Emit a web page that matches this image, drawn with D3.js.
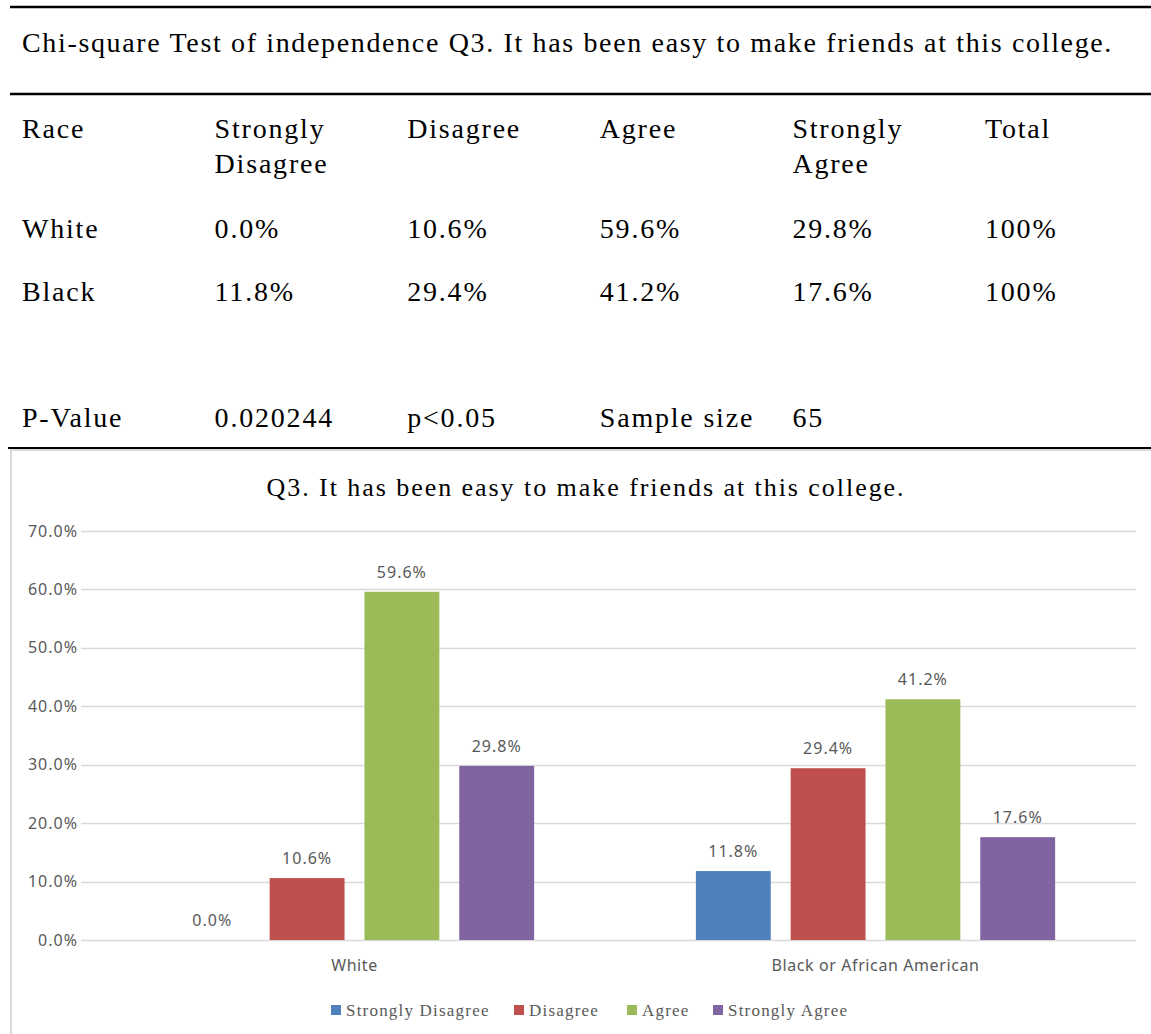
<!doctype html>
<html>
<head>
  <meta charset="UTF-8" />
  <title>Q3 chi-square</title>
  <style>
    html, body { margin: 0; padding: 0; background: #fff; }
    svg { display: block; }
    .serif { font-family: "Liberation Serif", "Times New Roman", serif; fill: #000; }
    .lbl { font-family: "Noto Sans", sans-serif; fill: #595959; }
  </style>
</head>
<body>
  <svg id="chart" width="1151" height="1034"></svg>
  <script src="https://cdn.jsdelivr.net/npm/d3@7"></script>
  <script>
    // data
    const tableTitle = "Chi-square Test of independence Q3. It has been easy to make friends at this college.";
    const tableHeader = [["Race"], ["Strongly", "Disagree"], ["Disagree"], ["Agree"], ["Strongly", "Agree"], ["Total"]];
    const tableRows = [
      ["White", "0.0%", "10.6%", "59.6%", "29.8%", "100%"],
      ["Black", "11.8%", "29.4%", "41.2%", "17.6%", "100%"]
    ];
    const pRow = ["P-Value", "0.020244", "p<0.05", "Sample size", "65"];

    const chartTitle = "Q3. It has been easy to make friends at this college.";
    const races = ["White", "Black or African American"];
    const responses = ["Strongly Disagree", "Disagree", "Agree", "Strongly Agree"];
    const whiteValues = [0.0, 10.6, 59.6, 29.8];
    const blackValues = [11.8, 29.4, 41.2, 17.6];
    const colors = ["#4f81bd", "#c0504d", "#9bbb59", "#8064a2"];
    const yTicks = [0, 10, 20, 30, 40, 50, 60, 70];

    const values = [whiteValues, blackValues];

    const svg = d3.select("#chart");

    // ---- table ----
    const col = d3.scaleBand().domain(d3.range(6)).range([22, 22 + 6 * 192.6]);

    const rule = (y, x0, w) => svg.append("line")
      .attr("x1", x0).attr("x2", 1151).attr("y1", y).attr("y2", y)
      .attr("stroke", "#000").attr("stroke-width", w);
    rule(7, 10, 2.5);
    rule(94, 10, 2.5);
    rule(448, 8, 2);

    svg.append("text").attr("class", "serif")
      .attr("x", 22).attr("y", 52)
      .style("font-size", "28px").style("letter-spacing", "1.65px")
      .text(tableTitle);

    const head = svg.append("g").attr("class", "serif")
      .style("font-size", "28px").style("letter-spacing", "1.8px");
    tableHeader.forEach((lines, i) => {
      lines.forEach((t, j) => {
        head.append("text").attr("x", col(i)).attr("y", 138 + j * 35).text(t);
      });
    });
    const rowY = [238, 301];
    tableRows.forEach((row, r) => {
      row.forEach((t, i) => {
        head.append("text").attr("x", col(i)).attr("y", rowY[r]).text(t);
      });
    });
    pRow.forEach((t, i) => {
      head.append("text").attr("x", col(i)).attr("y", 427).text(t);
    });

    // ---- chart ----
    svg.append("rect")
      .attr("x", 11).attr("y", 450).attr("width", 1160).attr("height", 600)
      .attr("fill", "none").attr("stroke", "#d9d9d9").attr("stroke-width", 2);

    svg.append("text").attr("class", "serif")
      .attr("x", 586).attr("y", 496)
      .attr("text-anchor", "middle")
      .style("font-size", "26px").style("letter-spacing", "1.95px")
      .text(chartTitle);

    const y = d3.scaleLinear().domain([0, 70]).range([940, 531]);
    const x0 = d3.scaleBand().domain(races).range([94, 1136]);
    const x1 = d3.scaleBand().domain(responses).range([0, x0.bandwidth()])
      .paddingInner(0.21).paddingOuter(0.853);

    // gridlines
    svg.append("g")
      .selectAll("line").data(yTicks).join("line")
      .attr("x1", 81).attr("x2", 1136)
      .attr("y1", d => Math.round(y(d)) + 0.5).attr("y2", d => Math.round(y(d)) + 0.5)
      .attr("stroke", "#d9d9d9").attr("stroke-width", 1.5);

    const yAxis = svg.append("g")
      .attr("transform", "translate(78,0)")
      .call(d3.axisLeft(y).tickValues(yTicks).tickSize(0).tickPadding(0).tickFormat(d => d.toFixed(1) + "%"));
    yAxis.select(".domain").remove();
    yAxis.selectAll("text").attr("class", "lbl").attr("fill", null)
      .style("font-size", "16px").style("letter-spacing", "1px");

    const groups = svg.append("g").selectAll("g").data(races).join("g")
      .attr("transform", d => `translate(${x0(d)},0)`);

    groups.selectAll("rect")
      .data((r, gi) => responses.map((s, i) => ({ s, i, v: values[gi][i] })))
      .join("rect")
      .attr("x", d => x1(d.s))
      .attr("width", x1.bandwidth())
      .attr("y", d => y(d.v))
      .attr("height", d => y(0) - y(d.v))
      .attr("fill", d => colors[d.i]);

    groups.selectAll("text")
      .data((r, gi) => responses.map((s, i) => ({ s, i, v: values[gi][i] })))
      .join("text")
      .attr("class", "lbl")
      .attr("x", d => x1(d.s) + x1.bandwidth() / 2)
      .attr("y", d => y(d.v) - 14)
      .attr("text-anchor", "middle")
      .style("font-size", "16px").style("letter-spacing", "1px")
      .text(d => d.v.toFixed(1) + "%");

    const xAxis = svg.append("g")
      .attr("transform", "translate(0,940)")
      .call(d3.axisBottom(x0).tickSize(0).tickPadding(20));
    xAxis.select(".domain").remove();
    xAxis.selectAll("text").attr("class", "lbl").attr("fill", null)
      .style("font-size", "16px").style("letter-spacing", "0.6px");

    // legend
    const legendX = [331, 514, 627, 713];
    const legend = svg.append("g").selectAll("g").data(responses).join("g")
      .attr("transform", (d, i) => `translate(${legendX[i]},1010)`);
    legend.append("rect")
      .attr("x", 0).attr("y", -5).attr("width", 10).attr("height", 10)
      .attr("fill", (d, i) => colors[i]);
    legend.append("text")
      .attr("class", "serif")
      .attr("x", 15).attr("y", 6)
      .style("fill", "#595959")
      .style("font-size", "17px").style("letter-spacing", "1.2px")
      .text(d => d);
  </script>
</body>
</html>
